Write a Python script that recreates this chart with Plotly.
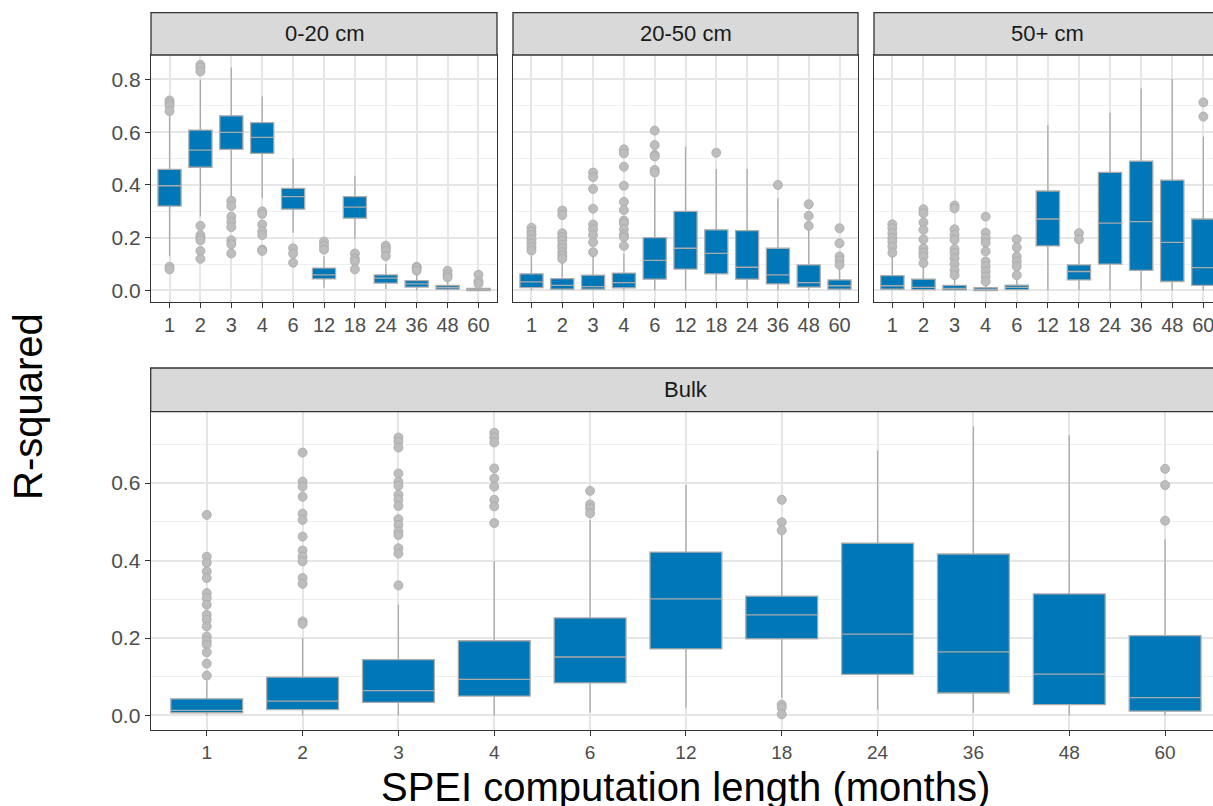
import plotly.graph_objects as go

W, H = 1213, 806

CATS = ["1", "2", "3", "4", "6", "12", "18", "24", "36", "48", "60"]
PANELS = ["0-20 cm", "20-50 cm", "50+ cm", "Bulk"]

# ---- 0-20 cm ----
D020_LOW = [0.13, 0.28, 0.35, 0.35, 0.22, 0.01, 0.195, 0.005, 0.0, 0.0, 0.0]
D020_Q1 = [0.32, 0.467, 0.535, 0.52, 0.308, 0.044, 0.274, 0.028, 0.013, 0.005, 0.0]
D020_MED = [0.397, 0.532, 0.599, 0.58, 0.356, 0.059, 0.316, 0.047, 0.025, 0.012, 0.003]
D020_Q3 = [0.459, 0.608, 0.662, 0.636, 0.387, 0.085, 0.356, 0.059, 0.037, 0.019, 0.008]
D020_HIGH = [0.66, 0.80, 0.845, 0.735, 0.50, 0.13, 0.435, 0.10, 0.07, 0.04, 0.015]
D020_OUT = [
    [0.72, 0.71, 0.70, 0.68, 0.09, 0.08],
    [0.855, 0.845, 0.83, 0.245, 0.21, 0.20, 0.19, 0.15, 0.12],
    [0.34, 0.32, 0.28, 0.26, 0.24, 0.19, 0.175, 0.14],
    [0.30, 0.29, 0.25, 0.225, 0.21, 0.155, 0.15],
    [0.16, 0.14, 0.105],
    [0.185, 0.17, 0.155],
    [0.14, 0.12, 0.11, 0.08],
    [0.17, 0.16, 0.15, 0.13],
    [0.09, 0.085, 0.075],
    [0.075, 0.06, 0.05],
    [0.06, 0.035, 0.025],
]

# ---- 20-50 cm ----
D2050_LOW = [0, 0, 0, 0, 0, 0, 0, 0, 0, 0, 0]
D2050_Q1 = [0.011, 0.005, 0.005, 0.01, 0.043, 0.081, 0.063, 0.043, 0.025, 0.013, 0.005]
D2050_MED = [0.033, 0.019, 0.015, 0.03, 0.114, 0.16, 0.141, 0.088, 0.059, 0.03, 0.018]
D2050_Q3 = [0.063, 0.045, 0.058, 0.066, 0.20, 0.30, 0.23, 0.227, 0.16, 0.097, 0.04]
D2050_HIGH = [0.13, 0.105, 0.14, 0.14, 0.425, 0.545, 0.46, 0.46, 0.35, 0.23, 0.08]
D2050_OUT = [
    [0.238, 0.223, 0.211, 0.194, 0.179, 0.164, 0.151],
    [0.303, 0.286, 0.217, 0.202, 0.19, 0.173, 0.161, 0.145, 0.133, 0.12],
    [0.447, 0.43, 0.385, 0.31, 0.25, 0.232, 0.21, 0.183, 0.145],
    [0.535, 0.52, 0.469, 0.397, 0.336, 0.305, 0.265, 0.255, 0.232, 0.211, 0.202, 0.169],
    [0.606, 0.551, 0.514, 0.508, 0.457, 0.447],
    [],
    [0.522],
    [],
    [0.40],
    [0.327, 0.283, 0.245],
    [0.236, 0.179, 0.129, 0.114, 0.097],
]

# ---- 50+ cm ----
D50_LOW = [0, 0, 0, 0, 0, 0, 0, 0, 0, 0, 0]
D50_Q1 = [0.005, 0.003, 0.002, 0.0, 0.003, 0.169, 0.04, 0.10, 0.076, 0.034, 0.019]
D50_MED = [0.018, 0.012, 0.008, 0.004, 0.012, 0.271, 0.072, 0.255, 0.261, 0.182, 0.087]
D50_Q3 = [0.056, 0.043, 0.019, 0.011, 0.02, 0.377, 0.097, 0.448, 0.49, 0.418, 0.271]
D50_HIGH = [0.129, 0.10, 0.045, 0.025, 0.04, 0.627, 0.179, 0.674, 0.766, 0.802, 0.583]
D50_OUT = [
    [0.251, 0.236, 0.217, 0.20, 0.185, 0.166, 0.143],
    [0.308, 0.293, 0.258, 0.23, 0.194, 0.16, 0.143, 0.129, 0.104],
    [0.322, 0.311, 0.232, 0.211, 0.192, 0.157, 0.142, 0.122, 0.10, 0.077, 0.058],
    [0.28, 0.219, 0.198, 0.181, 0.148, 0.11, 0.091, 0.072, 0.053, 0.034],
    [0.194, 0.163, 0.129, 0.11, 0.091, 0.058],
    [],
    [0.217, 0.194],
    [],
    [],
    [],
    [0.713, 0.659],
]

# ---- Bulk ----
BULK_LOW = [0, 0, 0, 0, 0.008, 0.02, 0.046, 0.015, 0.007, 0, 0]
BULK_Q1 = [0.007, 0.015, 0.034, 0.05, 0.084, 0.172, 0.198, 0.106, 0.058, 0.028, 0.011]
BULK_MED = [0.013, 0.037, 0.064, 0.093, 0.151, 0.301, 0.26, 0.21, 0.164, 0.107, 0.046]
BULK_Q3 = [0.043, 0.099, 0.144, 0.193, 0.252, 0.422, 0.308, 0.445, 0.417, 0.314, 0.206]
BULK_HIGH = [0.09, 0.20, 0.286, 0.398, 0.505, 0.595, 0.478, 0.684, 0.747, 0.724, 0.455]
BULK_OUT = [
    [0.518, 0.41, 0.394, 0.372, 0.355, 0.316, 0.303, 0.286, 0.26, 0.247, 0.23,
     0.204, 0.192, 0.183, 0.163, 0.134, 0.103],
    [0.679, 0.604, 0.591, 0.565, 0.521, 0.505, 0.462, 0.426, 0.41, 0.398,
     0.355, 0.34, 0.243, 0.237],
    [0.718, 0.707, 0.692, 0.625, 0.604, 0.593, 0.57, 0.557, 0.541, 0.507,
     0.492, 0.475, 0.466, 0.432, 0.418, 0.336],
    [0.73, 0.718, 0.705, 0.638, 0.612, 0.591, 0.557, 0.54, 0.497],
    [0.58, 0.545, 0.535, 0.522],
    [],
    [0.557, 0.499, 0.478, 0.028, 0.02, 0.003],
    [],
    [],
    [],
    [0.637, 0.595, 0.503],
]

DATA = [
    (D020_LOW, D020_Q1, D020_MED, D020_Q3, D020_HIGH, D020_OUT),
    (D2050_LOW, D2050_Q1, D2050_MED, D2050_Q3, D2050_HIGH, D2050_OUT),
    (D50_LOW, D50_Q1, D50_MED, D50_Q3, D50_HIGH, D50_OUT),
    (BULK_LOW, BULK_Q1, BULK_MED, BULK_Q3, BULK_HIGH, BULK_OUT),
]

BOX_FILL = "#0077B6"
BOX_LINE = "#ABABAB"
PT_FILL = "#BDBDBD"
PT_LINE = "#A8A8A8"
GRID = "#E6E6E6"
MINOR = "#EFEFEF"
FRAME = "#333333"
TICKC = "#4D4D4D"
FONT = "Liberation Sans"


def px(v):
    return v / W


def py(v):
    return 1 - v / H


# panel geometry (pixels): x0, x1, ytop, ybottom, x-range
GEOM = [
    (151, 497, 55, 301.7, [-0.6, 10.6]),
    (513, 858, 55, 301.7, [-0.6, 10.6]),
    (874, 1213, 55, 301.7, [-0.59, 10.31]),
    (150.7, 1213, 411.7, 730, [-0.585, 10.5]),
]
STRIP = [(12.7, 55), (12.7, 55), (12.7, 55), (368, 411.7)]
FULL_SPAN = 11.18  # full (uncut) panel width in category units

fig = go.Figure()

for i, (lo, q1, med, q3, hi, out) in enumerate(DATA):
    n = "" if i == 0 else str(i + 1)
    xa, ya = "x" + n, "y" + n
    fig.add_trace(go.Box(
        x=CATS, q1=q1, median=med, q3=q3, lowerfence=lo, upperfence=hi,
        xaxis=xa, yaxis=ya, width=0.75, whiskerwidth=0,
        fillcolor=BOX_FILL, line=dict(color=BOX_LINE, width=1.3),
        boxpoints=False, showlegend=False, hoverinfo="skip",
    ))
    ox, oy = [], []
    for c, vals in zip(CATS, out):
        for v in vals:
            ox.append(c)
            oy.append(v)
    fig.add_trace(go.Scatter(
        x=ox, y=oy, mode="markers", xaxis=xa, yaxis=ya,
        marker=dict(size=9, color=PT_FILL, line=dict(color=PT_LINE, width=0.8)),
        showlegend=False, hoverinfo="skip",
    ))

layout = dict(
    width=W, height=H, margin=dict(l=0, r=0, t=0, b=0),
    paper_bgcolor="white", plot_bgcolor="white",
    font=dict(family=FONT, color=TICKC),
)

shapes = []
annotations = []
for i, (x0, x1, yt, yb, xr) in enumerate(GEOM):
    n = "" if i == 0 else str(i + 1)
    cut = x1 >= W
    bulk = i == 3
    layout["xaxis" + n] = dict(
        domain=[px(x0), px(x1)], anchor="y" + n, type="category",
        categoryorder="array", categoryarray=CATS, range=xr,
        showgrid=True, gridcolor=GRID, gridwidth=1.6,
        ticks="outside", ticklen=5, tickwidth=1.4, tickcolor=FRAME,
        showline=True, linecolor=FRAME, linewidth=1.3, mirror=True,
        tickfont=dict(size=19 if bulk else 20, color=TICKC, family=FONT),
        zeroline=False, fixedrange=True,
    )
    yax = dict(
        domain=[py(yb), py(yt)], anchor="x" + n,
        showgrid=True, gridcolor=GRID, gridwidth=1.6,
        showline=True, linecolor=FRAME, linewidth=1.3, mirror=not cut,
        zeroline=False, fixedrange=True,
    )
    if bulk:
        yax.update(range=[-0.0375, 0.7845],
                   tickvals=[0, 0.2, 0.4, 0.6],
                   ticktext=["0.0", "0.2", "0.4", "0.6"],
                   minor=dict(tickvals=[0.1, 0.3, 0.5, 0.7], showgrid=True,
                              gridcolor=MINOR, gridwidth=1.0))
    else:
        yax.update(range=[-0.0425, 0.8925],
                   tickvals=[0, 0.2, 0.4, 0.6, 0.8],
                   ticktext=["0.0", "0.2", "0.4", "0.6", "0.8"],
                   minor=dict(tickvals=[0.1, 0.3, 0.5, 0.7], showgrid=True,
                              gridcolor=MINOR, gridwidth=1.0))
    if i in (0, 3):
        yax.update(ticks="outside", ticklen=5, tickwidth=1.4, tickcolor=FRAME,
                   showticklabels=True,
                   tickfont=dict(size=21, color=TICKC, family=FONT))
    else:
        yax.update(ticks="", showticklabels=False)
    layout["yaxis" + n] = yax

    st, sb = STRIP[i]
    sx1 = px(x1 + 12) if cut else px(x1)
    shapes.append(dict(type="rect", xref="paper", yref="paper",
                       x0=px(x0), x1=sx1, y0=py(sb), y1=py(st),
                       fillcolor="#D9D9D9", line=dict(color=FRAME, width=1.3),
                       layer="above"))
    if cut:
        full_x1 = x0 + (x1 - x0) * FULL_SPAN / (xr[1] - xr[0])
    else:
        full_x1 = x1
    cx = (x0 + full_x1) / 2
    annotations.append(dict(text=PANELS[i], xref="paper", yref="paper",
                            x=px(cx), y=py((st + sb) / 2), showarrow=False,
                            xanchor="center", yanchor="middle",
                            font=dict(size=22, color="#1A1A1A", family=FONT)))

annotations.append(dict(text="R-squared", xref="paper", yref="paper",
                        x=px(28), y=py(407), textangle=-90, showarrow=False,
                        xanchor="center", yanchor="middle",
                        font=dict(size=40, color="black", family=FONT)))
annotations.append(dict(text="SPEI computation length (months)", xref="paper",
                        yref="paper", x=px(686), y=py(787), showarrow=False,
                        xanchor="center", yanchor="middle",
                        font=dict(size=40, color="black", family=FONT)))

layout["shapes"] = shapes
layout["annotations"] = annotations
fig.update_layout(**layout)

fig.write_html("out.html")
